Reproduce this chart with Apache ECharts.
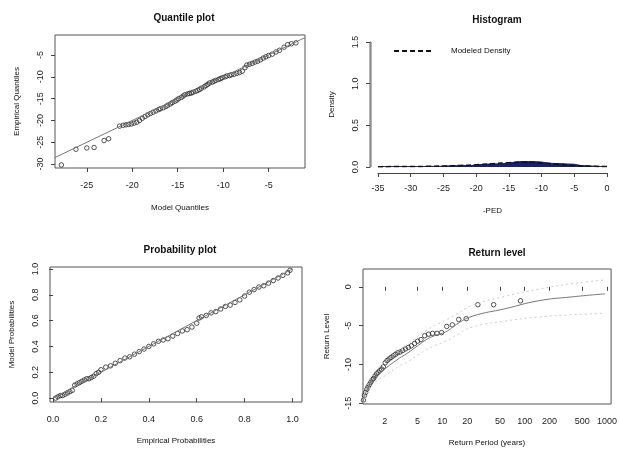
<!DOCTYPE html>
<html>
<head>
<meta charset="utf-8">
<script src="https://cdn.jsdelivr.net/npm/echarts@6/dist/echarts.min.js"></script>
<style>
  html, body { margin: 0; padding: 0; background: #fff; }
  #main { width: 620px; height: 455px; }
</style>
</head>
<body>
<div id="main"></div>
<script>
// quantile plot: model vs empirical quantiles
var modelQ = [-27.8, -26.2, -25.0, -24.2, -23.1, -22.6, -21.4, -21.0, -20.7, -20.4, -20.1, -19.8, -19.5, -19.2, -18.9, -18.6,
    -18.3, -18.0, -17.7, -17.4, -17.1, -16.9, -16.6, -16.3, -16.1, -15.8, -15.6, -15.3, -15.1, -14.9, -14.6, -14.4,
    -14.2, -13.9, -13.7, -13.5, -13.3, -13.0, -12.8, -12.6, -12.4, -12.1, -11.9, -11.7, -11.5, -11.2, -11.0, -10.8,
    -10.5, -10.3, -10.1, -9.8, -9.6, -9.3, -9.1, -8.8, -8.5, -8.2, -7.9, -7.6, -7.4, -7.1, -6.8, -6.5, -6.2, -5.9,
    -5.6, -5.3, -5.0, -4.6, -4.2, -3.8, -3.3, -2.9, -2.5, -2.0];
var empQ = [-30.2, -26.6, -26.3, -26.2, -24.6, -24.2, -21.3, -21.1, -21.0, -20.9, -20.8, -20.6, -20.4, -20.0, -19.5, -19.1,
    -18.7, -18.4, -18.1, -17.8, -17.5, -17.3, -17.1, -16.8, -16.5, -16.2, -15.9, -15.6, -15.3, -15.0, -14.7, -14.4,
    -14.1, -13.9, -13.8, -13.7, -13.5, -13.3, -13.1, -12.9, -12.6, -12.3, -12.0, -11.7, -11.4, -11.2, -11.0, -10.8,
    -10.6, -10.4, -10.2, -10.0, -9.8, -9.7, -9.5, -9.4, -9.2, -9.0, -8.7, -7.9, -7.3, -7.1, -6.9, -6.6, -6.4, -6.1,
    -5.7, -5.4, -5.1, -4.8, -4.3, -3.9, -3.2, -2.6, -2.4, -2.2];
var qqLine = [-28.5, -1.0];
var qqXTicks = [-25, -20, -15, -10, -5];
var qqYTicks = [-30, -25, -20, -15, -10, -5];

// histogram of -PED (bin left edges, density) and modeled density
var histEdges = [-35, -34, -33, -32, -31, -30, -29, -28, -27, -26, -25, -24, -23, -22, -21, -20, -19, -18,
    -17, -16, -15, -14, -13, -12, -11, -10, -9, -8, -7, -6, -5, -4, -3, -2, -1, 0];
var histDens = [0.005, 0.005, 0.005, 0.005, 0.005, 0.006, 0.006, 0.007, 0.008, 0.009, 0.014, 0.016, 0.017, 0.018,
    0.021, 0.032, 0.035, 0.037, 0.040, 0.046, 0.060, 0.066, 0.066, 0.064, 0.060, 0.046, 0.042, 0.040, 0.036,
    0.033, 0.018, 0.014, 0.010, 0.007, 0.006];
var densX = [-35, -32.5, -30, -27.5, -25, -22.5, -20, -17.5, -15, -12.5, -10, -7.5, -5, -2.5, 0];
var densY = [0.004, 0.005, 0.006, 0.008, 0.012, 0.018, 0.027, 0.040, 0.052, 0.058, 0.048, 0.034, 0.018, 0.009, 0.005];
var densTicks = [0, 0.5, 1.0, 1.5];

// probability plot
var empP = [0.01, 0.02, 0.03, 0.04, 0.05, 0.06, 0.07, 0.08, 0.09, 0.10, 0.11, 0.12, 0.13, 0.14, 0.15, 0.16, 0.17,
    0.18, 0.19, 0.20, 0.22, 0.24, 0.26, 0.28, 0.30, 0.32, 0.34, 0.36, 0.38, 0.40, 0.42, 0.44, 0.46, 0.48, 0.50,
    0.52, 0.54, 0.56, 0.58, 0.60, 0.61, 0.62, 0.64, 0.66, 0.68, 0.70, 0.72, 0.74, 0.76, 0.78, 0.80, 0.82, 0.84,
    0.86, 0.88, 0.90, 0.92, 0.94, 0.96, 0.98, 0.99];
var modP = [0.00, 0.01, 0.02, 0.02, 0.03, 0.04, 0.05, 0.06, 0.10, 0.11, 0.12, 0.13, 0.14, 0.15, 0.15, 0.16, 0.17,
    0.19, 0.20, 0.22, 0.24, 0.25, 0.27, 0.29, 0.31, 0.32, 0.34, 0.36, 0.38, 0.40, 0.42, 0.44, 0.45, 0.46, 0.48,
    0.50, 0.52, 0.53, 0.55, 0.58, 0.62, 0.63, 0.64, 0.66, 0.67, 0.69, 0.71, 0.72, 0.74, 0.76, 0.79, 0.82, 0.84,
    0.86, 0.87, 0.89, 0.91, 0.93, 0.95, 0.97, 0.99];
var ppLine = [0, 1];
var ppTicks = [0, 0.2, 0.4, 0.6, 0.8, 1.0];

// return level plot (periods in years)
var rlPeriod = [1.10, 1.13, 1.17, 1.21, 1.25, 1.30, 1.35, 1.40, 1.46, 1.52, 1.59, 1.66, 1.74, 1.83, 1.92, 2.02,
    2.13, 2.25, 2.38, 2.53, 2.69, 2.87, 3.07, 3.30, 3.56, 3.86, 4.20, 4.60, 5.0, 5.5, 6.1, 6.8, 7.6, 8.6, 9.8,
    11.3, 13.2, 15.8, 19.5, 27, 42, 89];
var rlLevel = [-14.6, -14.0, -13.6, -13.2, -12.9, -12.6, -12.3, -12.0, -11.8, -11.5, -11.2, -11.0, -10.8, -10.6,
    -10.3, -9.8, -9.5, -9.3, -9.1, -8.9, -8.7, -8.5, -8.4, -8.2, -8.0, -7.8, -7.6, -7.3, -7.0, -6.8, -6.3, -6.1,
    -6.0, -6.0, -5.9, -5.1, -4.9, -4.2, -4.1, -2.3, -2.3, -1.8];
var curvePeriod = [1.09, 1.2, 1.44, 2.05, 3, 3.7, 5, 6.4, 8, 11, 15, 23, 59, 147, 368, 950];
var curveLevel = [-14.8, -13.4, -11.9, -10.5, -9.2, -8.6, -7.6, -6.8, -6.3, -5.8, -4.8, -3.8, -2.8, -1.8, -1.3, -0.9];
var curveUpper = [-14.5, -13.0, -11.3, -9.6, -8.2, -7.5, -6.4, -5.6, -5.0, -4.3, -3.5, -2.4, -1.2, -0.3, 0.4, 0.9];
var curveLower = [-15.0, -13.8, -12.5, -11.4, -10.2, -9.7, -8.8, -8.1, -7.6, -7.0, -6.2, -5.2, -4.4, -3.9, -3.6, -3.4];
var rlXTicks = [2, 5, 10, 20, 50, 100, 200, 500, 1000];
var rlYTicks = [0, -5, -10, -15];

function zip(a, b) {
    var out = [];
    for (var i = 0; i < a.length; i++) out.push([a[i], b[i]]);
    return out;
}
function logZip(a, b) {
    var out = [];
    for (var i = 0; i < a.length; i++) out.push([Math.log10(a[i]), b[i]]);
    return out;
}

var FONT = 'Liberation Sans';
var AX = '#444';
var PT = '#2a2a2a';

function boxAxis(idx, min, max, ticks, fmt, name, gap, isY) {
    return {
        type: 'value', gridIndex: idx, min: min, max: max,
        name: name, nameLocation: 'middle', nameGap: gap,
        nameTextStyle: {fontFamily: FONT, fontSize: 8, color: '#111'},
        splitLine: {show: false},
        axisLine: {show: false},
        axisTick: {show: true, length: 4, lineStyle: {color: AX}, customValues: ticks},
        axisLabel: {
            fontFamily: FONT, fontSize: 9, color: '#222', rotate: isY ? 90 : 0,
            margin: isY ? 10 : 13, customValues: ticks, formatter: fmt
        }
    };
}

var one = function (v) { return v.toFixed(1); };
var intf = function (v) { return String(Math.round(v)); };

var histData = [];
for (var i = 0; i < histDens.length; i++) histData.push([histEdges[i], histDens[i]]);
histData.push([histEdges[histEdges.length - 1], histDens[histDens.length - 1]]);

var option = {
    backgroundColor: '#fff',
    animation: false,
    title: [
        {text: 'Quantile plot', left: 179, top: 8, textAlign: 'center', textStyle: {fontFamily: FONT, fontSize: 10, fontWeight: 'bold', color: '#111'}},
        {text: 'Histogram', left: 492, top: 10, textAlign: 'center', textStyle: {fontFamily: FONT, fontSize: 10, fontWeight: 'bold', color: '#111'}},
        {text: 'Probability plot', left: 175, top: 240, textAlign: 'center', textStyle: {fontFamily: FONT, fontSize: 10, fontWeight: 'bold', color: '#111'}},
        {text: 'Return level', left: 492, top: 243, textAlign: 'center', textStyle: {fontFamily: FONT, fontSize: 10, fontWeight: 'bold', color: '#111'}}
    ],
    legend: {
        data: ['Modeled Density'], left: 388, top: 42, itemWidth: 38, itemHeight: 8, itemGap: 4,
        itemStyle: {color: 'rgba(0,0,0,0)', borderWidth: 0},
        textStyle: {fontFamily: FONT, fontSize: 8, color: '#111', padding: [0, 0, 0, 14]}
    },
    grid: [
        {left: 55, top: 35, width: 250, height: 133, show: true, borderColor: '#555', borderWidth: 1, backgroundColor: 'transparent'},
        {left: 378, top: 42, width: 229, height: 125},
        {left: 50, top: 267, width: 252, height: 135, show: true, borderColor: '#555', borderWidth: 1, backgroundColor: 'transparent'},
        {left: 363, top: 269, width: 250, height: 135, show: true, borderColor: '#555', borderWidth: 1, backgroundColor: 'transparent'},
        // thin holder for the histogram's detached density axis (its border is the axis line)
        {left: 370, top: 42, width: 1, height: 125, show: true, borderColor: '#666', borderWidth: 1, backgroundColor: 'transparent'}
    ],
    xAxis: [
        boxAxis(0, -28.5, -1.0, qqXTicks, intf, 'Model Quantiles', 36, false),
        {
            type: 'value', gridIndex: 1, position: 'bottom', min: -35, max: 0, interval: 5, offset: 6,
            name: '-PED', nameLocation: 'middle', nameGap: 34,
            nameTextStyle: {fontFamily: FONT, fontSize: 8, color: '#111'},
            splitLine: {show: false},
            axisLine: {show: true, onZero: false, lineStyle: {color: AX, width: 1}},
            axisTick: {length: 4, lineStyle: {color: AX}},
            axisLabel: {fontFamily: FONT, fontSize: 9, color: '#222', margin: 11}
        },
        boxAxis(2, -0.013, 1.04, ppTicks, one, 'Empirical Probabilities', 35, false),
        boxAxis(3, 0.036, 3.05, rlXTicks.map(Math.log10), function (v) { return String(Math.round(Math.pow(10, v))); },
            'Return Period (years)', 35, false),
        {type: 'value', gridIndex: 4, min: 0, max: 1, show: false}
    ],
    yAxis: [
        boxAxis(0, -30.9, -0.4, qqYTicks, intf, 'Empirical Quantiles', 34, true),
        {type: 'value', gridIndex: 1, min: 0, max: 1.5, show: false},
        boxAxis(2, -0.03, 1.015, ppTicks, one, 'Model Probabilities', 34, true),
        boxAxis(3, -15.1, 2.3, rlYTicks, intf, 'Return Level', 32, true),
        boxAxis(4, 0, 1.5, densTicks, one, 'Density', 34, true)
    ],
    series: [
        {
            type: 'line', xAxisIndex: 0, yAxisIndex: 0, data: zip(qqLine, qqLine), symbol: 'none',
            lineStyle: {color: '#777', width: 1}
        },
        {
            type: 'scatter', xAxisIndex: 0, yAxisIndex: 0, data: zip(modelQ, empQ), symbol: 'circle', symbolSize: 4.5,
            itemStyle: {color: 'rgba(0,0,0,0)', borderColor: PT, borderWidth: 1}
        },
        {
            type: 'line', xAxisIndex: 1, yAxisIndex: 1, data: histData, step: 'end', symbol: 'none',
            lineStyle: {color: '#1a1f6e', width: 1}, areaStyle: {color: '#1a1f6e', opacity: 1}
        },
        {
            name: 'Modeled Density', type: 'line', xAxisIndex: 1, yAxisIndex: 1, data: zip(densX, densY),
            symbol: 'none', smooth: true, lineStyle: {color: '#111', width: 1.5, type: [5, 3]}, itemStyle: {color: '#111'}
        },
        {
            type: 'line', xAxisIndex: 2, yAxisIndex: 2, data: zip(ppLine, ppLine), symbol: 'none',
            lineStyle: {color: '#777', width: 1}
        },
        {
            type: 'scatter', xAxisIndex: 2, yAxisIndex: 2, data: zip(empP, modP), symbol: 'circle', symbolSize: 4.5,
            itemStyle: {color: 'rgba(0,0,0,0)', borderColor: PT, borderWidth: 1}
        },
        {
            type: 'line', xAxisIndex: 3, yAxisIndex: 3, data: logZip(curvePeriod, curveUpper), symbol: 'none', smooth: true,
            lineStyle: {color: '#ccc', width: 1, type: [2, 3]}
        },
        {
            type: 'line', xAxisIndex: 3, yAxisIndex: 3, data: logZip(curvePeriod, curveLower), symbol: 'none', smooth: true,
            lineStyle: {color: '#ccc', width: 1, type: [2, 3]}
        },
        {
            type: 'line', xAxisIndex: 3, yAxisIndex: 3, data: logZip(curvePeriod, curveLevel), symbol: 'none', smooth: true,
            lineStyle: {color: '#777', width: 1}
        },
        {
            type: 'scatter', xAxisIndex: 3, yAxisIndex: 3, data: logZip(rlPeriod, rlLevel), symbol: 'circle', symbolSize: 4.5,
            itemStyle: {color: 'rgba(0,0,0,0)', borderColor: PT, borderWidth: 1}
        }
    ]
};

var myChart = echarts.init(document.getElementById('main'));
myChart.setOption(option);
</script>
</body>
</html>
